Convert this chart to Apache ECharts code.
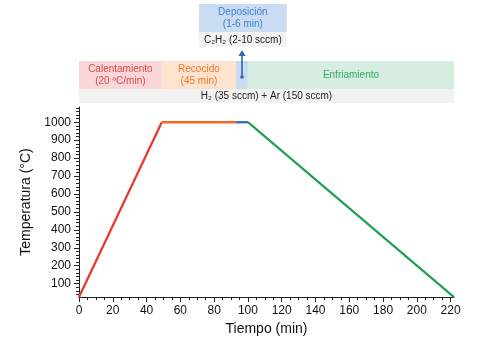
<!DOCTYPE html>
<html><head><meta charset="utf-8">
<script src="https://cdn.jsdelivr.net/npm/echarts@6/dist/echarts.min.js"></script>
<style>html,body{margin:0;padding:0;background:#fff}#c{width:491px;height:341px}</style>
</head><body><div id="c"></div>
<script>
// Data
const heatTime = [0, 49];
const heatTemp = [25, 1000];
const annealTime = [49, 93];
const annealTemp = [1000, 1000];
const depoTime = [93, 100];
const depoTemp = [1000, 1000];
const coolTime = [100, 222];
const coolTemp = [1000, 25];
const xTicks = [0, 20, 40, 60, 80, 100, 120, 140, 160, 180, 200, 220];
const yTicks = [100, 200, 300, 400, 500, 600, 700, 800, 900, 1000];
const phaseNames = ['Calentamiento\n(20 ºC/min)', 'Recocido\n(45 min)', '', 'Enfriamiento'];
const phaseStart = [0, 49, 93, 100];
const phaseEnd = [49, 93, 100, 222];
const depoLabel = 'Deposición\n(1-6 min)';
const depoSpan = [71, 123];
const gasBottom = 'H₂ (35 sccm) + Ar (150 sccm)';
const gasTop = 'C₂H₂ (2-10 sccm)';

const xMinor = []; for (let v = 5; v <= 220; v += 5) if (v % 20) xMinor.push(v);
const yMinor = []; for (let v = 40; v <= 1080; v += 20) if (v % 100) yMinor.push(v);

const font = 'Liberation Sans, Arial, sans-serif';
const colors = ['#e63a30', '#f06a24', '#2c68b4', '#22a05a'];
const fills = ['#f9d6da', '#fde3cf', '#c9dcf2', '#d6eedf'];
const textCol = ['#e0494a', '#ea7a2a', '#3f7fcf', '#38a763'];
const pair = (a, b) => a.map((t, i) => [t, b[i]]);

const chart = echarts.init(document.getElementById('c'));
const axisLineStyle = {color: '#222', width: 1};
chart.setOption({
  animation: false,
  grid: {left: 79, right: 37, top: 107, bottom: 42},
  xAxis: [{
    type: 'value', min: 0, max: 222,
    name: 'Tiempo (min)', nameLocation: 'middle', nameGap: 21,
    nameTextStyle: {fontFamily: font, fontSize: 14, color: '#111'},
    axisLine: {show: true, onZero: false, lineStyle: axisLineStyle},
    axisTick: {show: true, length: 5, customValues: xTicks, lineStyle: axisLineStyle},
    axisLabel: {customValues: xTicks, formatter: v => String(v), fontFamily: font, fontSize: 12, color: '#111', margin: 8},
    splitLine: {show: false}
  }, {
    type: 'value', min: 0, max: 222, position: 'bottom', gridIndex: 0,
    axisLine: {show: false},
    axisTick: {show: true, length: 3, customValues: xMinor, lineStyle: axisLineStyle},
    axisLabel: {show: false}, splitLine: {show: false}
  }],
  yAxis: [{
    type: 'value', min: 25, max: 1085,
    name: 'Temperatura (°C)', nameLocation: 'middle', nameGap: 39,
    nameTextStyle: {fontFamily: font, fontSize: 14, color: '#111'},
    axisLine: {show: true, onZero: false, lineStyle: axisLineStyle},
    axisTick: {show: true, length: 5, customValues: yTicks, lineStyle: axisLineStyle},
    axisLabel: {customValues: yTicks, formatter: v => String(v), fontFamily: font, fontSize: 12, color: '#111', margin: 8},
    splitLine: {show: false}
  }, {
    type: 'value', min: 25, max: 1085, position: 'left',
    axisLine: {show: false},
    axisTick: {show: true, length: 3, customValues: yMinor, lineStyle: axisLineStyle},
    axisLabel: {show: false}, splitLine: {show: false}
  }],
  series: [
    {type: 'line', data: pair(heatTime, heatTemp), color: colors[0]},
    {type: 'line', data: pair(annealTime, annealTemp), color: colors[1]},
    {type: 'line', data: pair(depoTime, depoTemp), color: colors[2]},
    {type: 'line', data: pair(coolTime, coolTemp), color: colors[3]}
  ].map(s => Object.assign(s, {symbol: 'none', lineStyle: {width: 2.3}, clip: false}))
});

const px = t => chart.convertToPixel({xAxisIndex: 0}, t);
const g = [];
const bandTop = 61, bandBot = 89, gasBot = 103;
phaseStart.forEach((s, i) => {
  const x0 = px(s), x1 = px(phaseEnd[i]);
  g.push({type: 'rect', shape: {x: x0, y: bandTop, width: x1 - x0, height: bandBot - bandTop}, style: {fill: fills[i]}, z: 1});
  if (phaseNames[i]) g.push({type: 'text', x: (x0 + x1) / 2, y: (bandTop + bandBot) / 2 + 0.5,
    style: {text: phaseNames[i], fill: textCol[i], font: '10px ' + font, align: 'center', verticalAlign: 'middle', lineHeight: 12}, z: 2});
});
const gx0 = px(phaseStart[0]), gx1 = px(phaseEnd[3]);
g.push({type: 'rect', shape: {x: gx0, y: bandBot, width: gx1 - gx0, height: gasBot - bandBot}, style: {fill: '#f2f2f3'}, z: 1});
g.push({type: 'text', x: (gx0 + gx1) / 2, y: (bandBot + gasBot) / 2 + 0.5,
  style: {text: gasBottom, fill: '#222', font: '10px ' + font, align: 'center', verticalAlign: 'middle'}, z: 2});
const dx0 = px(depoSpan[0]), dx1 = px(depoSpan[1]);
g.push({type: 'rect', shape: {x: dx0, y: 4, width: dx1 - dx0, height: 28}, style: {fill: '#c9dcf2'}, z: 1});
g.push({type: 'text', x: (dx0 + dx1) / 2, y: 18.5,
  style: {text: depoLabel, fill: textCol[2], font: '10px ' + font, align: 'center', verticalAlign: 'middle', lineHeight: 12}, z: 2});
g.push({type: 'rect', shape: {x: dx0, y: 32, width: dx1 - dx0, height: 15}, style: {fill: '#f2f2f3'}, z: 1});
g.push({type: 'text', x: (dx0 + dx1) / 2, y: 40,
  style: {text: gasTop, fill: '#222', font: '10px ' + font, align: 'center', verticalAlign: 'middle'}, z: 2});
const ax = px((depoTime[0] + depoTime[1]) / 2);
g.push({type: 'line', shape: {x1: ax, y1: 54, x2: ax, y2: 77}, style: {stroke: colors[2], lineWidth: 1.6}, z: 3});
g.push({type: 'polygon', shape: {points: [[ax, 50], [ax - 3.5, 56], [ax + 3.5, 56]]}, style: {fill: colors[2]}, z: 3});
g.push({type: 'circle', shape: {cx: ax, cy: 77, r: 1.8}, style: {fill: colors[2]}, z: 3});
chart.setOption({graphic: g});
</script></body></html>
